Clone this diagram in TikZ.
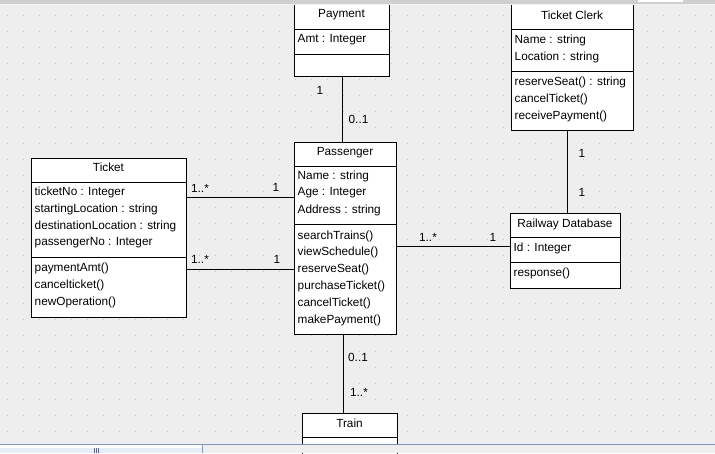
\documentclass[tikz,border=0pt]{standalone}
\usepackage{fontspec}
\setmainfont{Liberation Sans}
\definecolor{bgc}{HTML}{EEEEEE}
\definecolor{dotc}{HTML}{C4C4C4}
\definecolor{barc}{HTML}{CFCFCF}
\definecolor{thumbc}{HTML}{E6EEF8}
\definecolor{thumbl}{HTML}{8296BA}
\begin{document}
\begin{tikzpicture}[x=1pt,y=-1pt,
  cls/.style={draw=black, fill=white, line width=0.8pt, inner sep=0pt, anchor=north west},
  shadowbox/.style={fill=black!45},
  sep/.style={line width=0.8pt},
  txt/.style={anchor=west, inner sep=0pt, font=\fontsize{11.8}{13}\selectfont},
  ttl/.style={anchor=center, inner sep=0pt, font=\fontsize{11.8}{13}\selectfont},
  lbl/.style={anchor=center, inner sep=0pt, font=\fontsize{11.8}{13}\selectfont},
  assoc/.style={line width=0.8pt}]
\useasboundingbox (0,0) rectangle (715,453);
\fill[bgc] (0,0) rectangle (715,453);
\foreach \i in {0,...,44} {
  \foreach \j in {0,...,27} {
    \fill[dotc] ({7+16*\i},{15+16*\j}) rectangle ++(1,1);
  }
}
% shadows
\fill[shadowbox] (295,-10) rectangle (390,77);
\fill[shadowbox] (512,-10) rectangle (634,131);
\fill[shadowbox] (295,143) rectangle (397,335);
\fill[shadowbox] (32,159) rectangle (187,318);
\fill[shadowbox] (511,214) rectangle (621,289);
\fill[shadowbox] (303,414) rectangle (398,470);
% classes
\node[cls, minimum width=95pt, minimum height=86pt] (pay) at (294,-10) {};
\draw[sep] (pay.west |- 0,29) -- (pay.east |- 0,29);
\draw[sep] (pay.west |- 0,54) -- (pay.east |- 0,54);
\node[ttl] (payt) at (341.5,15) {Payment};
\node[txt] (paya) at (297.5,40) {Amt : Integer};

\node[cls, minimum width=122pt, minimum height=140pt] (clerk) at (511,-10) {};
\draw[sep] (clerk.west |- 0,29) -- (clerk.east |- 0,29);
\draw[sep] (clerk.west |- 0,71) -- (clerk.east |- 0,71);
\node[ttl] (clerkt) at (572,15) {Ticket Clerk};
\node[txt] (clerka1) at (514.5,40) {Name : string};
\node[txt] (clerka2) at (514.5,57) {Location : string};
\node[txt] (clerkm1) at (514.5,82) {reserveSeat() : string};
\node[txt] (clerkm2) at (514.5,99) {cancelTicket()};
\node[txt] (clerkm3) at (514.5,116) {receivePayment()};

\node[cls, minimum width=102pt, minimum height=192pt] (pass) at (294,142) {};
\draw[sep] (pass.west |- 0,166) -- (pass.east |- 0,166);
\draw[sep] (pass.west |- 0,224) -- (pass.east |- 0,224);
\node[ttl] (passt) at (345,153) {Passenger};
\node[txt] (passa1) at (297.5,176) {Name : string};
\node[txt] (passa2) at (297.5,193) {Age : Integer};
\node[txt] (passa3) at (297.5,210) {Address : string};
\node[txt] (passm1) at (297.5,236) {searchTrains()};
\node[txt] (passm2) at (297.5,252) {viewSchedule()};
\node[txt] (passm3) at (297.5,269) {reserveSeat()};
\node[txt] (passm4) at (297.5,286) {purchaseTicket()};
\node[txt] (passm5) at (297.5,303) {cancelTicket()};
\node[txt] (passm6) at (297.5,320) {makePayment()};

\node[cls, minimum width=155pt, minimum height=159pt] (tick) at (31,158) {};
\draw[sep] (tick.west |- 0,182) -- (tick.east |- 0,182);
\draw[sep] (tick.west |- 0,257) -- (tick.east |- 0,257);
\node[ttl] (tickt) at (108.5,167) {Ticket};
\node[txt] (ticka1) at (34.5,192) {ticketNo : Integer};
\node[txt] (ticka2) at (34.5,209) {startingLocation : string};
\node[txt] (ticka3) at (34.5,226) {destinationLocation : string};
\node[txt] (ticka4) at (34.5,243) {passengerNo : Integer};
\node[txt] (tickm1) at (34.5,268) {paymentAmt()};
\node[txt] (tickm2) at (34.5,285) {cancelticket()};
\node[txt] (tickm3) at (34.5,302) {newOperation()};

\node[cls, minimum width=110pt, minimum height=75pt] (rail) at (510,213) {};
\draw[sep] (rail.west |- 0,237) -- (rail.east |- 0,237);
\draw[sep] (rail.west |- 0,262) -- (rail.east |- 0,262);
\node[ttl] (railt) at (565,224) {Railway Database};
\node[txt] (raila) at (513.5,248) {Id : Integer};
\node[txt] (railm) at (513.5,273) {response()};

\node[cls, minimum width=95pt, minimum height=57pt] (train) at (302,413) {};
\draw[sep] (train.west |- 0,437) -- (train.east |- 0,437);
\node[ttl] (traint) at (349.5,423) {Train};

% associations
\draw[assoc] (pay.south) -- (pay.south |- pass.north);
\draw[assoc] ([yshift=40.5pt]tick.east) -- ([yshift=40.5pt]tick.east -| pass.west);
\draw[assoc] ([yshift=-31.5pt]tick.east) -- ([yshift=-31.5pt]tick.east -| pass.west);
\draw[assoc] ([yshift=4.5pt]rail.west -| pass.east) -- ([yshift=4.5pt]rail.west);
\draw[assoc] ([xshift=2pt]rail.north) -- ([xshift=2pt]rail.north |- clerk.south);
\draw[assoc] ([xshift=-2pt]pass.south) -- ([xshift=-2pt]pass.south |- train.north);

% multiplicities
\node[lbl] (m1) at (320,90) {1};
\node[lbl] (m2) at (358.5,119) {0..1};
\node[lbl] (m3) at (200,188) {1..*};
\node[lbl] (m4) at (276,187) {1};
\node[lbl] (m5) at (200,259) {1..*};
\node[lbl] (m6) at (277,259) {1};
\node[lbl] (m7) at (428,237) {1..*};
\node[lbl] (m8) at (493,237) {1};
\node[lbl] (m9) at (582,153) {1};
\node[lbl] (m10) at (582,192) {1};
\node[lbl] (m11) at (358,357) {0..1};
\node[lbl] (m12) at (359,392) {1..*};

% top bar
\fill[barc] (0,0) rectangle (715,3.5);
\fill[white!90!gray] (0,3.5) rectangle (715,4.5);
\fill[white] (638,0) rectangle (683,2);
% bottom bar
\fill[bgc] (0,444) rectangle (715,453);
\draw[thumbl, line width=0.8pt] (0,444.4) -- (715,444.4);
\fill[thumbc] (0,445) rectangle (202.5,453);
\fill[white] (0,445) rectangle (202.5,447.5);
\draw[thumbl, line width=0.8pt] (202.5,444.4) -- (202.5,453);
\draw[thumbl!70!black, line width=0.6pt] (94.5,448) -- (94.5,452.5) (96.5,448) -- (96.5,452.5) (98.5,448) -- (98.5,452.5);
\end{tikzpicture}
\end{document}
